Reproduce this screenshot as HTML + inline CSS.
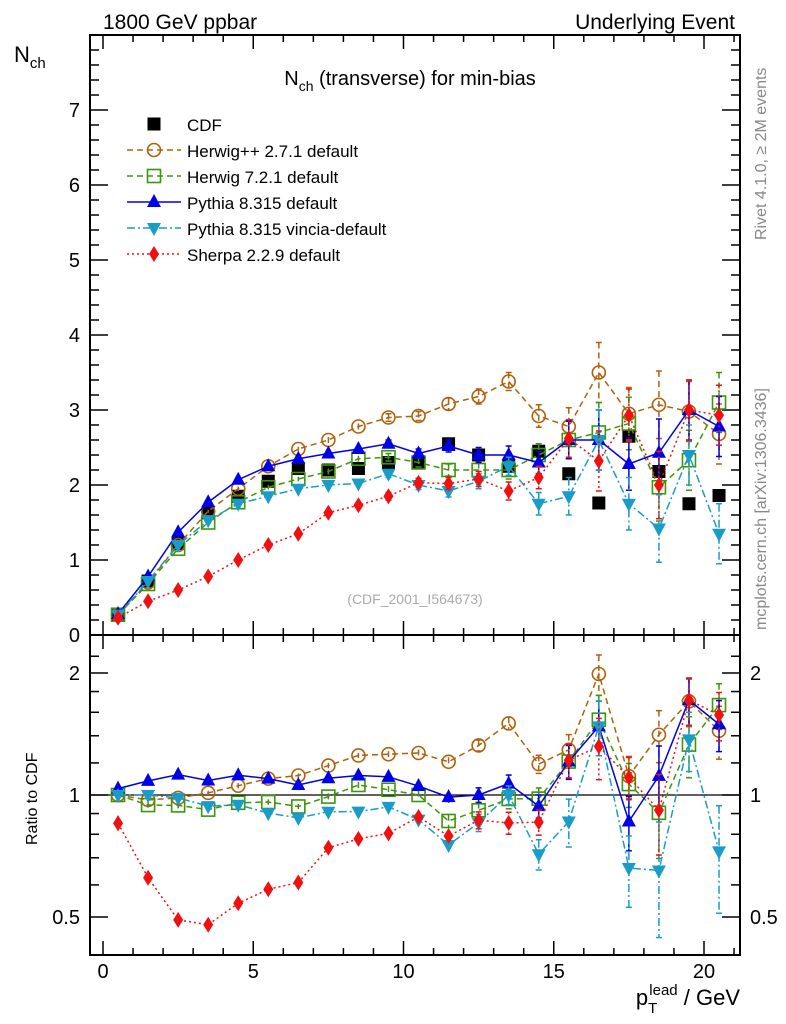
<!DOCTYPE html>
<html><head><meta charset="utf-8"><style>
html,body{margin:0;padding:0;background:#fff;}
svg{display:block;font-family:"Liberation Sans",sans-serif;}
</style></head><body>
<svg id="chart" width="786" height="1024" viewBox="0 0 786 1024" xmlns="http://www.w3.org/2000/svg">
<text x="103" y="29" font-size="21">1800 GeV ppbar</text>
<text x="735" y="29" font-size="21" text-anchor="end">Underlying Event</text>
<text x="14" y="62" font-size="22">N<tspan font-size="15" dy="6">ch</tspan></text>
<text x="410" y="85" font-size="20" text-anchor="middle">N<tspan font-size="14" dy="6">ch</tspan><tspan dy="-6"> (transverse) for min-bias</tspan></text>
<text x="415" y="604" font-size="14" fill="#aaa" text-anchor="middle">(CDF_2001_I564673)</text>
<text transform="translate(766,240) rotate(-90)" font-size="16" fill="#888">Rivet 4.1.0, ≥ 2M events</text>
<text transform="translate(766,630) rotate(-90)" font-size="16" fill="#888">mcplots.cern.ch [arXiv:1306.3436]</text>
<text transform="translate(37,845) rotate(-90)" font-size="16">Ratio to CDF</text>
<text x="740" y="1005" font-size="22" text-anchor="end">p<tspan font-size="15" dy="8">T</tspan><tspan font-size="15" dx="-8" dy="-18">lead</tspan><tspan dy="10"> / GeV</tspan></text>
<g id="axes"></g>
<g id="series"></g>
<g id="legend"></g>
</svg>
<script>
const xVals=[0.5,1.5,2.5,3.5,4.5,5.5,6.5,7.5,8.5,9.5,10.5,11.5,12.5,13.5,14.5,15.5,16.5,17.5,18.5,19.5,20.5];
const cdf=[0.27,0.72,1.22,1.63,1.85,2.05,2.22,2.2,2.22,2.3,2.3,2.55,2.4,2.25,2.45,2.15,1.76,2.65,2.18,1.75,1.86];
const herwigpp=[0.27,0.7,1.2,1.65,1.95,2.25,2.48,2.6,2.78,2.9,2.92,3.08,3.18,3.38,2.92,2.78,3.5,2.95,3.07,2.98,2.68];
const herwig7=[0.27,0.68,1.15,1.5,1.77,1.97,2.08,2.18,2.35,2.37,2.3,2.2,2.2,2.2,2.4,2.6,2.7,2.82,1.97,2.33,3.1];
const pythia=[0.28,0.78,1.37,1.77,2.07,2.25,2.35,2.42,2.48,2.55,2.42,2.52,2.4,2.4,2.3,2.6,2.6,2.28,2.43,3.0,2.78];
const vincia=[0.27,0.72,1.2,1.53,1.75,1.85,1.95,2.0,2.02,2.15,2.0,1.92,2.05,2.25,1.75,1.85,2.6,1.75,1.42,2.4,1.35];
const sherpa=[0.23,0.45,0.6,0.78,1.0,1.2,1.35,1.63,1.73,1.85,2.03,2.02,2.08,1.92,2.1,2.62,2.32,2.93,2.0,3.0,2.93];
const mcErr=[0.01,0.01,0.02,0.02,0.03,0.03,0.03,0.04,0.04,0.05,0.06,0.08,0.1,0.12,0.15,0.25,0.4,0.35,0.45,0.4,0.4];
const mainTicks=[0,1,2,3,4,5,6,7];
const ratioTicks=[0.5,1,2];
const xTicks=[0,5,10,15,20];

const NS='http://www.w3.org/2000/svg';
const L=90,R=740,T=35,M=635,B=955;
const xs=v=>103+v*30.05;
const ym=v=>635-v*75;
const yr=v=>795-122*Math.log2(v);
function el(p,tag,a){const e=document.createElementNS(NS,tag);for(const k in a)e.setAttribute(k,a[k]);p.appendChild(e);return e;}
const ax=document.getElementById('axes');
// frames
let f1=el(ax,'rect',{x:L,y:T,width:R-L,height:M-T,fill:'none',stroke:'#000','stroke-width':2});


let f2=el(ax,'rect',{x:L,y:M,width:R-L,height:B-M,fill:'none',stroke:'#000','stroke-width':2});


let one=el(ax,'line',{x1:L,x2:R,y1:yr(1),y2:yr(1),stroke:'#000','stroke-width':1.2});


// x ticks
for(let v=0;v<=21;v++){const maj=v%5===0;const h=maj?14:7;const X=xs(v);
 for(const yy of [M,B]){el(ax,'line',{x1:X,x2:X,y1:yy,y2:yy-h,stroke:'#000','stroke-width':1.5});}
 el(ax,'line',{x1:X,x2:X,y1:T,y2:T+h,stroke:'#000','stroke-width':1.5});
 el(ax,'line',{x1:X,x2:X,y1:M,y2:M+h,stroke:'#000','stroke-width':1.5});}
for(let v=0;v<=20;v+=0.5){if(v%1===0)continue;const X=xs(v);}
xTicks.forEach(v=>{const t=el(ax,'text',{x:xs(v),y:978,'font-size':20,'text-anchor':'middle'});t.textContent=v;
 
 });
// main y ticks
for(let v=0;v<=7.9;v+=0.2){const vv=Math.round(v*10)/10;const maj=Math.abs(vv-Math.round(vv))<1e-6;const h=maj?18:9;const Y=ym(vv);
 el(ax,'line',{x1:L,x2:L+h,y1:Y,y2:Y,stroke:'#000','stroke-width':1.5});
 el(ax,'line',{x1:R,x2:R-h,y1:Y,y2:Y,stroke:'#000','stroke-width':1.5});}
mainTicks.forEach(v=>{const t=el(ax,'text',{x:80,y:ym(v)+7,'font-size':20,'text-anchor':'end'});t.textContent=v;
 
 });
// ratio ticks
[0.4,0.5,0.6,0.7,0.8,0.9,1,1.2,1.4,1.6,1.8,2,2.2].forEach(v=>{const maj=[0.5,1,2].includes(v);const h=maj?18:9;const Y=yr(v);
 if(Y<M||Y>B)return;
 el(ax,'line',{x1:L,x2:L+h,y1:Y,y2:Y,stroke:'#000','stroke-width':1.5});
 el(ax,'line',{x1:R,x2:R-h,y1:Y,y2:Y,stroke:'#000','stroke-width':1.5});});
ratioTicks.forEach(v=>{for(const [xx,anc] of [[80,'end'],[750,'start']]){const t=el(ax,'text',{x:xx,y:yr(v)+7,'font-size':20,'text-anchor':anc});t.textContent=v;
 
 }});

const sg=document.getElementById('series');
function marker(g,type,x,y,c){
 if(type==='circle')return el(g,'circle',{cx:x,cy:y,r:6.5,fill:'none',stroke:c,'stroke-width':1.6});
 if(type==='osq')return el(g,'rect',{x:x-6.5,y:y-6.5,width:13,height:13,fill:'none',stroke:c,'stroke-width':1.6});
 if(type==='sq')return el(g,'rect',{x:x-6.5,y:y-6.5,width:13,height:13,fill:c});
 if(type==='tri')return el(g,'polygon',{points:`${x},${y-8} ${x-7},${y+5} ${x+7},${y+5}`,fill:c});
 if(type==='itri')return el(g,'polygon',{points:`${x},${y+8} ${x-7},${y-5} ${x+7},${y-5}`,fill:c});
 if(type==='dia')return el(g,'polygon',{points:`${x},${y-8} ${x-5},${y} ${x},${y+8} ${x+5},${y}`,fill:c});
}
const specs=[
 {name:'herwigpp',data:herwigpp,c:'#b0600a',m:'circle',dash:'6,4',label:'Herwig++ 2.7.1 default'},
 {name:'herwig7',data:herwig7,c:'#3c960a',m:'osq',dash:'6,4',label:'Herwig 7.2.1 default'},
 {name:'pythia',data:pythia,c:'#0000e6',m:'tri',dash:'',label:'Pythia 8.315 default'},
 {name:'vincia',data:vincia,c:'#1a9cc8',m:'itri',dash:'8,3,2,3',label:'Pythia 8.315 vincia-default'},
 {name:'sherpa',data:sherpa,c:'#f01010',m:'dia',dash:'2,3',label:'Sherpa 2.2.9 default'}];
specs.forEach(s=>{
 const g=el(sg,'g',{});
 
 
 const ratio=s.data.map((v,i)=>v/cdf[i]);
 for(const [ys,vals,errs] of [[ym,s.data,mcErr],[yr,ratio,mcErr.map((e,i)=>e/cdf[i])]]){
  const pts=vals.map((v,i)=>xs(xVals[i])+','+ys(v)).join(' ');
  el(g,'polyline',{points:pts,fill:'none',stroke:s.c,'stroke-width':1.5,'stroke-dasharray':s.dash});
  vals.forEach((v,i)=>{const X=xs(xVals[i]);const e=errs[i];
   const lo=ys===yr?Math.max(v-e,0.3):v-e;
   const y1=ys(v+e),y2=ys(lo);
   el(g,'line',{x1:X,x2:X,y1:y1,y2:y2,stroke:s.c,'stroke-width':1.5,'stroke-dasharray':s.dash});
   if(e>0.04){el(g,'line',{x1:X-3,x2:X+3,y1:y1,y2:y1,stroke:s.c,'stroke-width':1.5});el(g,'line',{x1:X-3,x2:X+3,y1:y2,y2:y2,stroke:s.c,'stroke-width':1.5});}
   const mk=marker(g,s.m,X,ys(v),s.c);
   
   
  });
 }
});
const cg=el(sg,'g',{});


cdf.forEach((v,i)=>{const mk=marker(cg,'sq',xs(xVals[i]),ym(v),'#000');
 
 });
sg.insertBefore(cg,sg.firstChild);

const lg=document.getElementById('legend');
const le=el(lg,'g',{});


marker(le,'sq',154,124,'#000');
const lt=el(le,'text',{x:187,y:131,'font-size':17});lt.textContent='CDF';
specs.forEach((s,i)=>{const Y=150+i*26;const g=el(lg,'g',{});
 
 
 el(g,'line',{x1:127,x2:181,y1:Y,y2:Y,stroke:s.c,'stroke-width':1.5,'stroke-dasharray':s.dash});
 marker(g,s.m,154,Y,s.c);
 const t=el(g,'text',{x:187,y:Y+7,'font-size':17});t.textContent=s.label;});
</script>
</body></html>
